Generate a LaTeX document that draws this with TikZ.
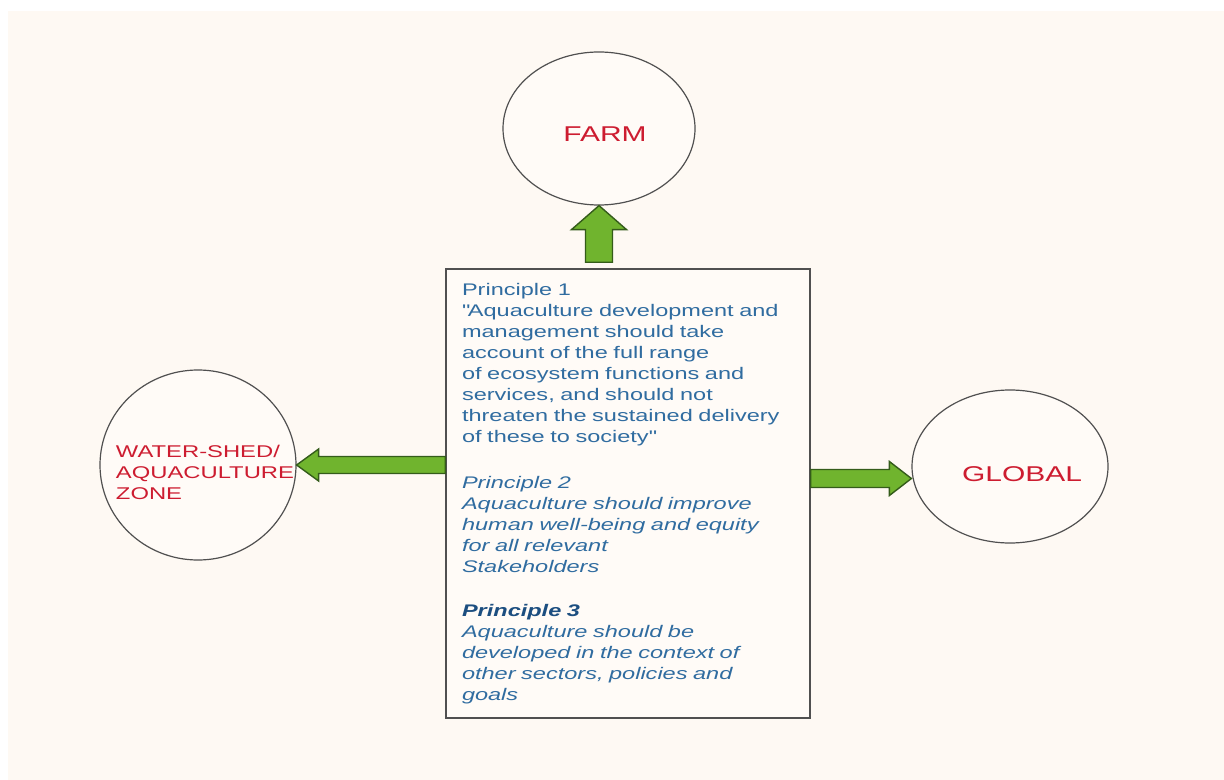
\documentclass[tikz,border=0pt]{standalone}
\usepackage{fontspec}
\setmainfont{Liberation Sans}[FakeStretch=1.4]
\usepackage{tikz}
\usetikzlibrary{shapes.geometric,%
	calc,%
	positioning}
\definecolor{bgcream}{RGB}{254,249,243}
\definecolor{ringfill}{RGB}{255,251,247}
\definecolor{ringgray}{RGB}{80,80,80}
\definecolor{zonered}{RGB}{205,28,48}
\definecolor{textblue}{RGB}{48,108,160}
\definecolor{headblue}{RGB}{28,78,128}
\definecolor{arrowgreen}{RGB}{112,180,46}
\definecolor{arrowdark}{RGB}{52,92,26}

\begin{document}
\begin{tikzpicture}[x = 0.5pt, y = -0.5pt, zone/.style = {ellipse, draw=ringgray, line width=0.6pt, fill=ringfill, inner sep=0pt},zonetext/.style = {text=zonered, font=\fontsize{10.7}{12}\selectfont},fatarrow/.style = {draw=arrowdark, fill=arrowgreen, line width=0.7pt, line join=miter},principles/.style = {draw=ringgray, line width=0.7pt, fill=ringfill, minimum width=182pt, minimum height=224.5pt, text width=166pt, inner xsep=8pt, align=left, text=textblue, font=\fontsize{8.4}{10.5}\selectfont}]
	\fill[white] (0,0) rectangle (1224,780);
	\fill[bgcream] (8,11) rectangle (1224,780);
	\useasboundingbox (0,0) rectangle (1224,780);
	\node[zone, minimum width=96pt, minimum height=76.5pt, label={[zonetext, xshift=3pt, yshift=-2.75pt]center:FARM}] (farm) at (599,128.5) {};
	\node[zone, minimum width=98pt, minimum height=76.5pt, label={[zonetext, xshift=6pt, yshift=-3.75pt]center:GLOBAL}] (glob) at (1010,466.5) {};
	\node[zone, minimum width=98pt, minimum height=95pt, label={[zonetext, xshift=3.5pt, yshift=-3.75pt, align=left, font=\fontsize{8.5}{10.5}\selectfont]center:{WATER-SHED/\\AQUACULTURE\\ZONE}}] (ws) at (198,465) {};
	\node[principles] (box) at (628,493.5) {Principle 1\\
		\textquotedbl Aquaculture development and\\
		management should take\\
		account of the full range\\
		of ecosystem functions and\\
		services, and should not\\
		threaten the sustained delivery\\
		of these to society\textquotedbl\\[12.5pt]
		{\itshape Principle 2\\
		Aquaculture should improve\\
		human well-being and equity\\
		for all relevant\\
		Stakeholders}\\[11.5pt]
		{\itshape\bfseries\color{headblue}Principle 3}\\
		{\itshape Aquaculture should be\\
		developed in the context of\\
		other sectors, policies and\\
		goals}};
	\coordinate (upfoot) at ($(farm.south |- box.north)+(0,-6)$);
	\coordinate (gtip) at ($(glob.west)+(0,12)$);
	\draw[fatarrow] (farm.south) -- ++(27.5,24) -- ++(-14,0) -- ($(upfoot)+(13.5,0)$) -- ($(upfoot)+(-13.5,0)$) -- ($(farm.south)+(-13.5,24)$) -- ++(-14,0) -- cycle;
	\draw[fatarrow] (ws.east) -- ++(22,-16) -- ++(0,7.5) -- ($(ws.east -| box.west)+(0,-8.5)$) -- ($(ws.east -| box.west)+(0,8.5)$) -- ($(ws.east)+(22,8.5)$) -- ++(0,7.5) -- cycle;
	\draw[fatarrow] (gtip) -- ++(-22,-17) -- ++(0,8) -- ($(gtip -| box.east)+(0,-9)$) -- ($(gtip -| box.east)+(0,9)$) -- ($(gtip)+(-22,9)$) -- ++(0,8) -- cycle;
	\end{tikzpicture}
\end{document}
